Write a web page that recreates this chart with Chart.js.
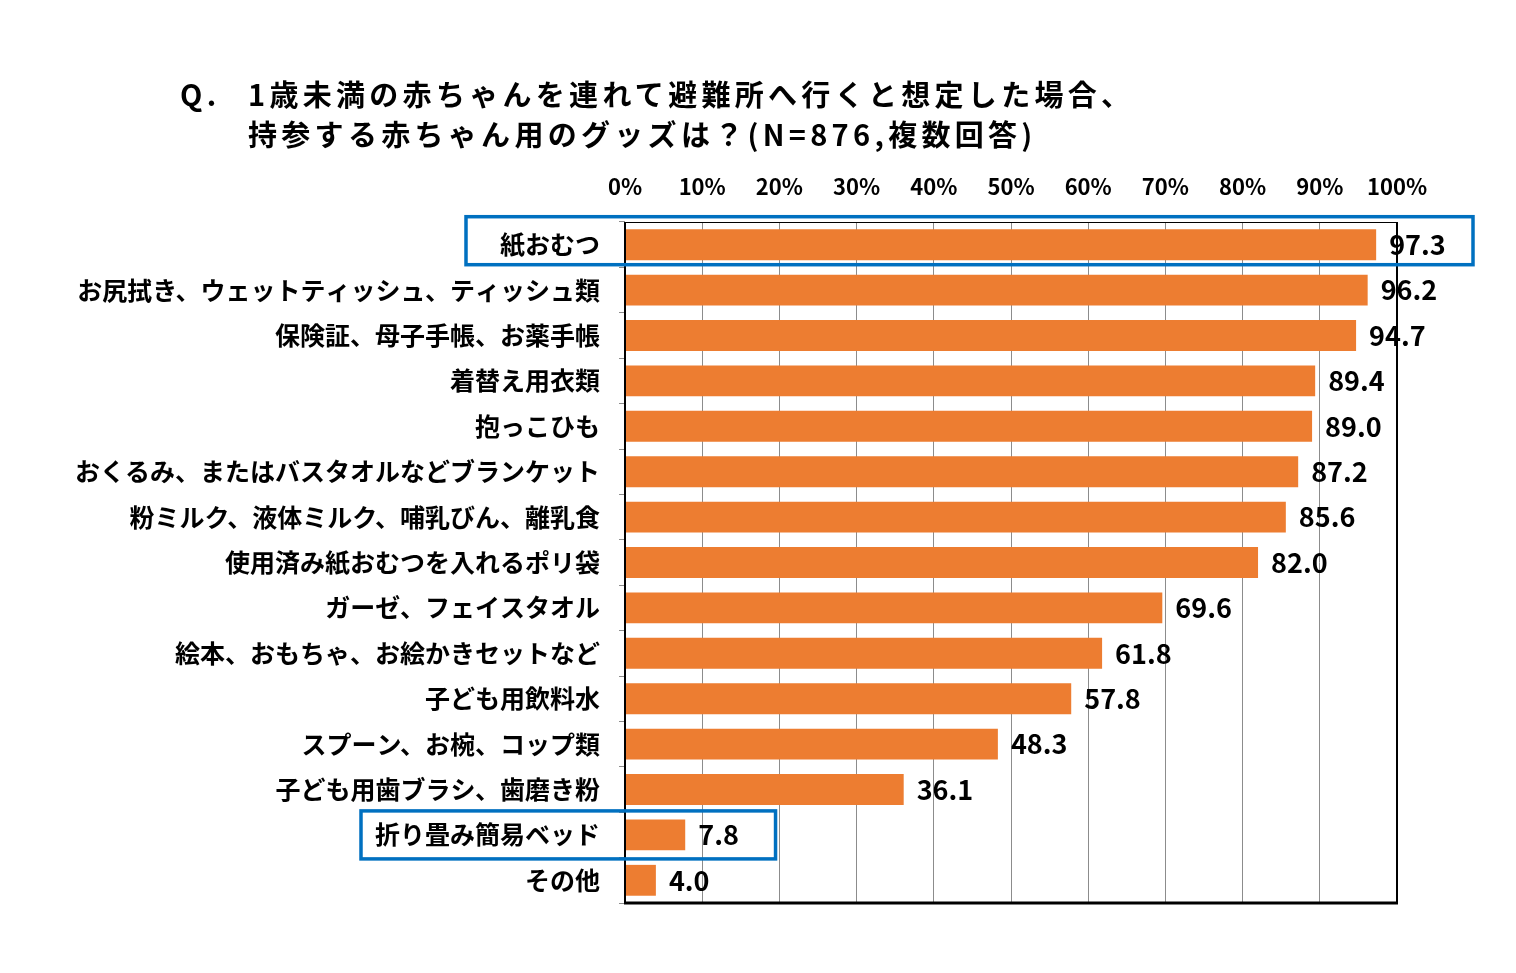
<!DOCTYPE html>
<html lang="ja">
<head>
<meta charset="utf-8">
<script src="https://cdn.jsdelivr.net/npm/chart.js@4.4.1/dist/chart.umd.min.js"></script>
<style>
  html, body { margin: 0; padding: 0; background: #ffffff; }
  #wrap { position: relative; width: 1516px; height: 973px; }
  #chart { position: absolute; left: 0; top: 0; }
  .title {
    position: absolute;
    font-family: "Noto Sans CJK JP", "Noto Sans", sans-serif;
    font-weight: 700;
    font-size: 29px;
    letter-spacing: 4.3px;
    color: #000;
    white-space: nowrap;
    line-height: 40px;
  }
</style>
</head>
<body>
<div id="wrap">
  <canvas id="chart" width="1516" height="973"></canvas>
  <div class="title" style="left:180px; top:73px;">Q.</div>
  <div class="title" style="left:248px; top:73px;">1歳未満の赤ちゃんを連れて避難所へ行くと想定した場合、<br>持参する赤ちゃん用のグッズは？(N=876,複数回答)</div>
</div>
<script>
// ── DATA ───────────────────────────────────────────────
const CATEGORIES = [
  "紙おむつ",
  "お尻拭き、ウェットティッシュ、ティッシュ類",
  "保険証、母子手帳、お薬手帳",
  "着替え用衣類",
  "抱っこひも",
  "おくるみ、またはバスタオルなどブランケット",
  "粉ミルク、液体ミルク、哺乳びん、離乳食",
  "使用済み紙おむつを入れるポリ袋",
  "ガーゼ、フェイスタオル",
  "絵本、おもちゃ、お絵かきセットなど",
  "子ども用飲料水",
  "スプーン、お椀、コップ類",
  "子ども用歯ブラシ、歯磨き粉",
  "折り畳み簡易ベッド",
  "その他",
];
const VALUES = [97.3, 96.2, 94.7, 89.4, 89.0, 87.2, 85.6, 82.0, 69.6, 61.8, 57.8, 48.3, 36.1, 7.8, 4.0];
const X_TICKS = [0, 10, 20, 30, 40, 50, 60, 70, 80, 90, 100];
const HIGHLIGHTED = [0, 13];

const FONT = '"Noto Sans CJK JP", "Noto Sans", sans-serif';
const ORANGE = "#ED7D31";
const BLUE = "#0070C0";

// ── PLUGINS ────────────────────────────────────────────
const valueLabels = {
  id: "valueLabels",
  afterDatasetsDraw(chart) {
    const ctx = chart.ctx;
    const meta = chart.getDatasetMeta(0);
    ctx.save();
    ctx.font = "700 27px " + FONT;
    ctx.fillStyle = "#000";
    ctx.textAlign = "left";
    ctx.textBaseline = "middle";
    meta.data.forEach((bar, i) => {
      ctx.fillText(VALUES[i].toFixed(1), bar.x + 13, bar.y);
    });
    ctx.restore();
  },
};

const frame = {
  id: "frame",
  afterDraw(chart) {
    const { ctx, chartArea: a } = chart;
    ctx.save();
    ctx.strokeStyle = "#000";
    ctx.lineWidth = 1;
    ctx.beginPath(); ctx.moveTo(a.left, a.top + 0.5); ctx.lineTo(a.right, a.top + 0.5); ctx.stroke();
    ctx.lineWidth = 2;
    ctx.beginPath(); ctx.moveTo(a.right, a.top); ctx.lineTo(a.right, a.bottom); ctx.stroke();
    ctx.beginPath(); ctx.moveTo(a.left, a.top); ctx.lineTo(a.left, a.bottom); ctx.stroke();
    ctx.lineWidth = 3;
    ctx.beginPath(); ctx.moveTo(a.left - 1, a.bottom); ctx.lineTo(a.right + 1, a.bottom); ctx.stroke();

    // highlight boxes
    const y = chart.scales.y;
    const x = chart.scales.x;
    ctx.strokeStyle = BLUE;
    ctx.lineWidth = 3.5;
    HIGHLIGHTED.forEach((idx) => {
      const cy = y.getPixelForValue(idx) - (idx === 0 ? 4 : 0);
      ctx.font = "700 25px " + FONT;
      const w = ctx.measureText(CATEGORIES[idx]).width;
      const left = a.left - 25 - w - (idx === 0 ? 34 : 14);
      const right = idx === 0 ? a.right + 76 : x.getPixelForValue(19.5);
      ctx.strokeRect(left, cy - 24, right - left, 48);
    });
    ctx.restore();
  },
};

// ── CHART ──────────────────────────────────────────────
new Chart(document.getElementById("chart"), {
  type: "bar",
  data: {
    labels: CATEGORIES,
    datasets: [{
      data: VALUES,
      backgroundColor: ORANGE,
      borderWidth: 0,
      barPercentage: 0.68,
      categoryPercentage: 1.0,
    }],
  },
  options: {
    indexAxis: "y",
    responsive: false,
    animation: false,
    events: [],
    layout: { padding: { left: 0, right: 119, top: 170, bottom: 70 } },
    plugins: {
      legend: { display: false },
      tooltip: { enabled: false },
    },
    scales: {
      x: {
        position: "top",
        min: 0,
        max: 100,
        afterBuildTicks: (scale) => { scale.ticks = X_TICKS.map(v => ({ value: v })); },
        afterFit: (scale) => { scale.height = 52; },
        grid: { color: "#8c8c8c", lineWidth: 1, drawTicks: false },
        border: { display: false },
        ticks: {
          padding: 22,
          color: "#000",
          font: { family: FONT, size: 22, weight: "700" },
          callback: (v) => v + "%",
          maxRotation: 0,
        },
      },
      y: {
        afterFit: (scale) => { scale.width = 625; },
        grid: { offset: true, drawOnChartArea: false, color: "#8c8c8c", tickLength: 6 },
        border: { display: false },
        ticks: {
          padding: 19,
          color: "#000",
          font: { family: FONT, size: 25, weight: "700" },
          autoSkip: false,
        },
      },
    },
  },
  plugins: [valueLabels, frame],
});
</script>
</body>
</html>
